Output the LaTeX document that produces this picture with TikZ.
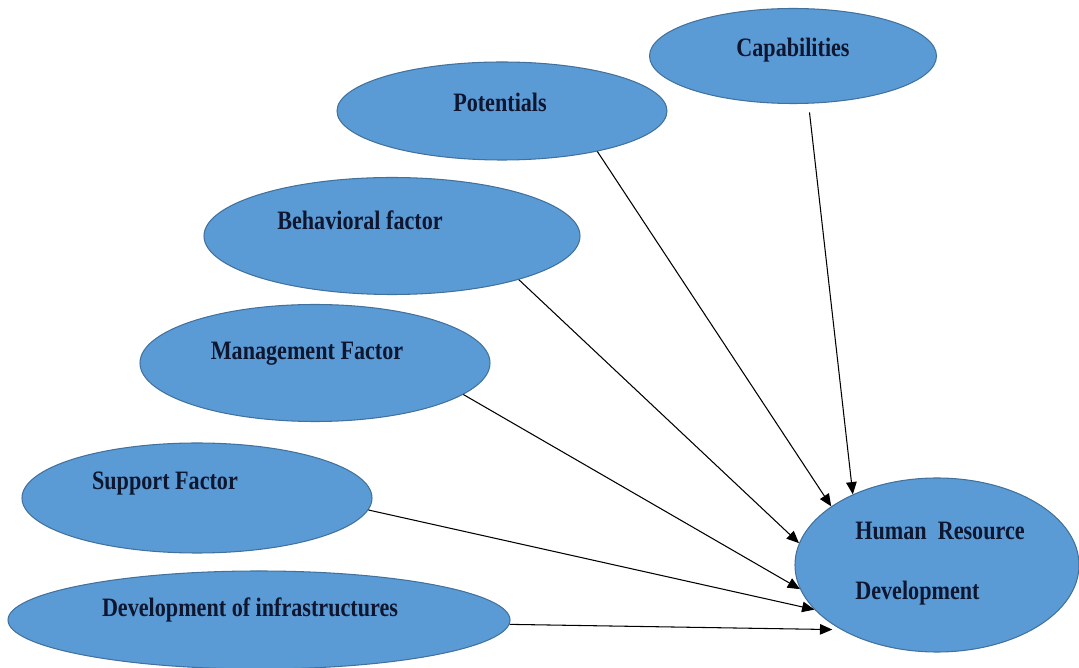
\documentclass[tikz,border=0pt]{standalone}
\usepackage{fontspec}
\setmainfont{Liberation Serif}
\usepackage{tikz}
\usetikzlibrary{shapes,arrows,positioning,calc,arrows.meta}
\definecolor{blobfill}{RGB}{91,155,213}
\definecolor{blobline}{RGB}{65,113,156}
\definecolor{inkblue}{RGB}{14,22,48}
\tikzset{
    blob/.style={ellipse, draw=blobline, fill=blobfill, line width=0.6pt, inner sep=0pt},
    lbl/.style={font=\bfseries\fontsize{12.6}{14}\selectfont, text=inkblue, transform shape, yscale=1.2, inner sep=0pt},
    feed/.style={-{Triangle[length=7pt,width=6pt]}, line width=0.6pt}
}

\begin{document}
\begin{tikzpicture}
    \useasboundingbox (0,0) rectangle (21.58,13.36);
    % ellipses
    \node[blob, minimum width=5.74cm, minimum height=1.90cm] (cap) at (15.86,12.24) {};
    \node[blob, minimum width=6.60cm, minimum height=1.96cm] (pot) at (10.04,11.14) {};
    \node[blob, minimum width=7.52cm, minimum height=2.34cm] (beh) at (7.84,8.64) {};
    \node[blob, minimum width=7.00cm, minimum height=2.34cm] (man) at (6.30,6.10) {};
    \node[blob, minimum width=7.00cm, minimum height=2.20cm] (sup) at (3.94,3.40) {};
    \node[blob, minimum width=10.04cm, minimum height=1.96cm] (dev) at (5.18,0.96) {};
    \node[blob, minimum width=5.68cm, minimum height=3.48cm] (hrd) at (18.74,2.06) {};
    % texts
    \node[lbl] (captxt) at ($(cap)+(0,0.12)$) {Capabilities};
    \node[lbl] (pottxt) at ($(pot)+(-0.04,0.18)$) {Potentials};
    \node[lbl] (behtxt) at ($(beh)+(-0.64,0.32)$) {Behavioral factor};
    \node[lbl] (mantxt) at ($(man)+(-0.16,0.18)$) {Management Factor};
    \node[lbl] (suptxt) at ($(sup)+(-0.64,0.28)$) {Support Factor};
    \node[lbl] (devtxt) at ($(dev)+(-0.18,0.20)$) {Development of infrastructures};
    \node[lbl, anchor=west] (hrdtop) at ($(hrd)+(-1.64,0.68)$) {Human\ \ Resource};
    \node[lbl, anchor=west] (hrdbot) at ($(hrd)+(-1.64,-0.56)$) {Development};
    % arrows
    \draw[feed, shorten <=5pt] (cap.-72) -- (hrd.140);
    \draw[feed] (pot.-23) -- (hrd.151);
    \draw[feed] (beh.-19) -- (hrd.171);
    \draw[feed] (man.-12) -- (hrd.190);
    \draw[feed] (sup.-4) -- (hrd.200);
    \draw[feed, shorten >=5pt] (dev.-1) -- (hrd.214);
\end{tikzpicture}
\end{document}
